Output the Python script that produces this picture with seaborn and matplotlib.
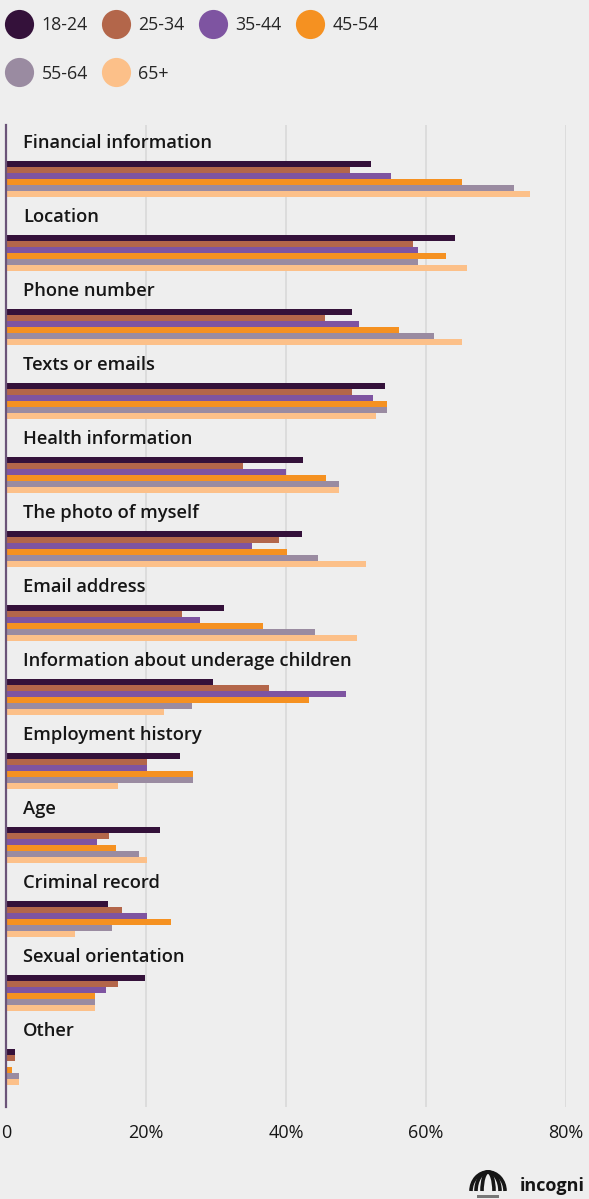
import matplotlib
matplotlib.use("Agg")
import matplotlib.pyplot as plt
import numpy as np
import pandas as pd
import seaborn as sns
from matplotlib.lines import Line2D
from matplotlib.patches import Arc, Rectangle

# Share of respondents (%) by data type and age group
categories = [
    "Financial information",
    "Location",
    "Phone number",
    "Texts or emails",
    "Health information",
    "The photo of myself",
    "Email address",
    "Information about underage children",
    "Employment history",
    "Age",
    "Criminal record",
    "Sexual orientation",
    "Other",
]
age_groups = ["18-24", "25-34", "35-44", "45-54", "55-64", "65+"]

share_18_24 = [52.1, 64.1, 49.4, 54.1, 42.4, 42.3, 31.1, 29.6, 24.9, 22.0, 14.6, 19.9, 1.3]
share_25_34 = [49.2, 58.1, 45.5, 49.4, 33.9, 39.0, 25.2, 37.5, 20.1, 14.7, 16.6, 16.0, 1.3]
share_35_44 = [55.0, 58.9, 50.4, 52.4, 40.0, 35.1, 27.7, 48.5, 20.1, 13.0, 20.1, 14.3, 0.0]
share_45_54 = [65.1, 62.8, 56.1, 54.4, 45.7, 40.1, 36.7, 43.3, 26.7, 15.7, 23.5, 12.7, 0.9]
share_55_64 = [72.6, 58.9, 61.2, 54.4, 47.5, 44.6, 44.1, 26.6, 26.7, 19.0, 15.2, 12.7, 1.8]
share_65_plus = [74.9, 65.8, 65.2, 52.8, 47.5, 51.4, 50.1, 22.6, 16.0, 20.1, 9.9, 12.7, 1.8]

palette = ["#34113a", "#b3664a", "#7e54a1", "#f59121", "#9a8ba1", "#fcc089"]
x_ticks = [0, 20, 40, 60, 80]
x_tick_labels = ["0", "20%", "40%", "60%", "80%"]

series = [share_18_24, share_25_34, share_35_44, share_45_54, share_55_64, share_65_plus]
df = pd.DataFrame(
    [(c, g, v) for g, vals in zip(age_groups, series) for c, v in zip(categories, vals)],
    columns=["category", "age", "share"],
)

BG = "#eeeeee"
INK = "#161616"
sns.set_theme(style="white")
plt.rcParams["font.family"] = ["Open Sans", "DejaVu Sans"]

W, H = 589, 1199
fig = plt.figure(figsize=(W / 100, H / 100), dpi=100, facecolor=BG)
ax = fig.add_axes([6 / W, 1 - 1107 / H, 560 / W, (1107 - 125) / H])
ax.set_facecolor(BG)

sns.barplot(
    data=df, y="category", x="share", hue="age", order=categories,
    hue_order=age_groups, palette=palette, orient="h", width=0.486,
    saturation=1, linewidth=0, legend=False, ax=ax, zorder=3,
)

n = len(categories)
ax.set_xlim(0, 80)
ax.set_ylim(n - 0.46, -0.73)
ax.set_xticks(x_ticks)
ax.set_xticklabels(x_tick_labels, fontsize=13, color=INK, fontweight="medium")
ax.tick_params(axis="x", length=0, pad=12)
ax.set_yticks([])
ax.set_xlabel("")
ax.set_ylabel("")
ax.grid(axis="x", color="#d9d9d9", linewidth=1.2, zorder=0)
ax.grid(axis="y", visible=False)
for side in ["top", "right", "bottom"]:
    ax.spines[side].set_visible(False)
ax.spines["left"].set_color("#6b5478")
ax.spines["left"].set_linewidth(1.6)
ax.spines["left"].set_zorder(5)

# Category titles sit above each group of bars
for i, cat in enumerate(categories):
    ax.text(2.45, i - 0.49, cat, fontsize=13.2, fontweight="semibold",
            color=INK, va="center", ha="left")

# Legend with round swatches, filled row by row (4 per row)
row_order = [0, 4, 1, 5, 2, 3]
handles = [Line2D([], [], marker="o", linestyle="none", markersize=21,
                  markerfacecolor=palette[k], markeredgewidth=0) for k in row_order]
fig.legend(handles, [age_groups[k] for k in row_order], ncol=4, loc="upper left",
           bbox_to_anchor=(5 / W, 1 - 16 / H), frameon=False,
           handlelength=1.55, handletextpad=0.5,
           columnspacing=0.8, labelspacing=1.72, borderpad=0,
           borderaxespad=0, prop={"weight": "medium", "size": 12.8})

# Brand mark in the lower-right corner
fig.text(585 / W, 1 - 1186 / H, "incogni", fontsize=13, fontweight="bold",
         color=INK, ha="right", va="center")
lax = fig.add_axes([468 / W, 1 - 1199 / H, 40 / W, 30 / H])
lax.set_xlim(0, 40)
lax.set_ylim(0, 30)
lax.axis("off")
for w in [34, 24, 12]:
    lax.add_patch(Arc((20, 8), w, 38, theta1=0, theta2=180, lw=2.6, color=INK))
lax.add_patch(Rectangle((9, 1), 22, 3, color="#777777", lw=0))

fig.savefig("out.png", dpi=100, facecolor=BG)
